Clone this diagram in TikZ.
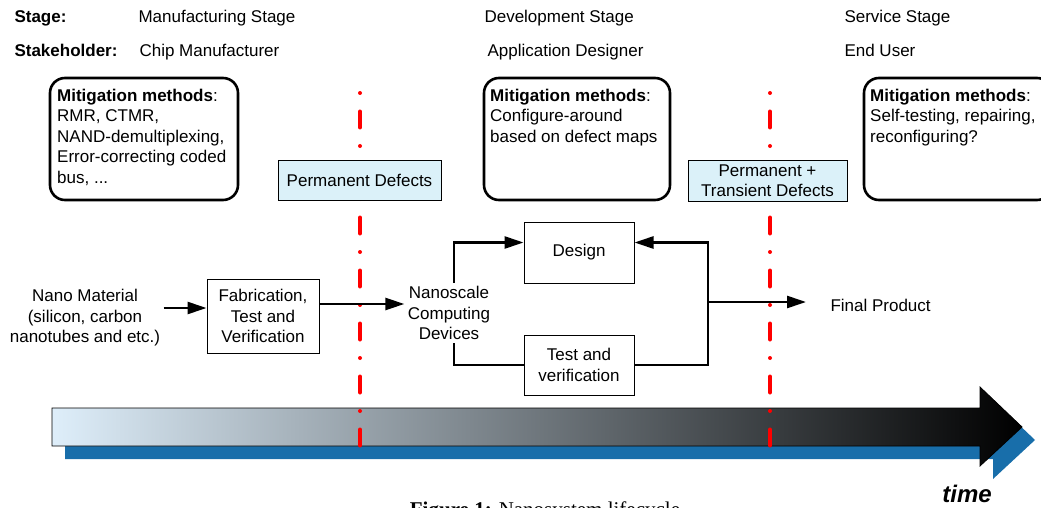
\documentclass[tikz,border=0pt]{standalone}
\usepackage{fontspec}
\setmainfont{Liberation Sans}
\newfontfamily\captionfont{Liberation Serif}
\usetikzlibrary{arrows.meta,positioning}

\definecolor{defectfill}{RGB}{219,241,249}
\definecolor{timeblue}{RGB}{24,110,170}
\definecolor{timelight}{RGB}{222,238,250}

\tikzset{
  txt/.style={font=\fontsize{17}{20.5}\selectfont, align=center},
  methodframe/.style={draw, line width=2.6pt, rounded corners=15pt,
    minimum width=188pt, minimum height=122pt},
  methodtext/.style={txt, align=left, inner sep=0pt, anchor=north west},
  defectbox/.style={txt, draw, fill=defectfill, line width=1pt},
  procbox/.style={txt, draw, line width=1pt, minimum width=110pt},
  link/.style={line width=2.6pt},
  flow/.style={link, -{Triangle[length=19pt,width=12pt]}},
  boundary/.style={red, line width=4pt, line cap=round,
    dash pattern=on 0pt off 18.5pt on 16pt off 18.5pt},
}

\begin{document}
\begin{tikzpicture}[x=1pt, y=-1pt]
    \useasboundingbox (0,0) rectangle (1041,508);

    % Time arrow with its shadow
    \fill[timeblue, shift={(13,13)}]
      (52,408) -- (980,408) -- (980,387) -- (1022,427)
      -- (980,466) -- (980,446) -- (52,446) -- cycle;
    \shadedraw[left color=timelight, right color=black, line width=0.8pt]
      (52,408) -- (980,408) -- (980,387) -- (1022,427)
      -- (980,466) -- (980,446) -- (52,446) -- cycle;
    \node[font=\fontsize{24}{24}\selectfont\bfseries\itshape, anchor=base]
      (time) at (967,502) {time};

    % Stage boundaries
    \draw[boundary] (360,93) -- (360,447);
    \draw[boundary] (770,93) -- (770,447);

    % Header rows
    \node[txt, anchor=base west, font=\fontsize{17}{20.5}\selectfont\bfseries]
      (stagelbl) at (11,22.5) {Stage:};
    \node[txt, anchor=base west] (mfgstage) at (135,22.5) {Manufacturing Stage};
    \node[txt, anchor=base west] (devstage) at (481,22.5) {Development Stage};
    \node[txt, anchor=base west] (svcstage) at (841,22.5) {Service Stage};

    \node[txt, anchor=base west, font=\fontsize{17}{20.5}\selectfont\bfseries]
      (holderlbl) at (11,56.5) {Stakeholder:};
    \node[txt, anchor=base west] (mfgholder) at (136,56.5) {Chip Manufacturer};
    \node[txt, anchor=base west] (devholder) at (484,56.5) {Application Designer};
    \node[txt, anchor=base west] (svcholder) at (841,56.5) {End User};

    % Mitigation methods
    \node[methodframe] (mfgbox) at (144,139) {};
    \node[methodtext] (mfgtext) at (57,88.5)
      {\textbf{Mitigation methods}:\\RMR, CTMR,\\NAND-demultiplexing,\\
       Error-correcting coded\\bus, ...};
    \node[methodframe, minimum width=186pt] (devbox) at (577,139) {};
    \node[methodtext] (devtext) at (490,88.5)
      {\textbf{Mitigation methods}:\\Configure-around\\based on defect maps};
    \node[methodframe] (svcbox) at (958,139) {};
    \node[methodtext] (svctext) at (870,88.5)
      {\textbf{Mitigation methods}:\\Self-testing, repairing,\\reconfiguring?};

    % Defect types
    \node[defectbox, minimum width=163pt, minimum height=40pt]
      (permdef) at (359.5,180) {Permanent Defects};
    \node[defectbox, minimum width=159pt, minimum height=41pt]
      (transdef) at (767.5,180.5) {Permanent +\\Transient Defects};

    % Flow of the product
    \node[txt] (nano) at (85,318)
      {Nano Material\\(silicon, carbon\\nanotubes and etc.)};
    \node[procbox, minimum width=112pt, minimum height=74pt]
      (fab) at (263,316) {Fabrication,\\Test and\\Verification};
    \node[txt] (nsd) at (449,313) {Nanoscale\\Computing\\Devices};
    \node[procbox, minimum height=61pt] (design) at (579,252.5) {Design};
    \node[procbox, minimum height=60pt] (test) at (579,365)
      {Test and\\verification};
    \node[txt, anchor=west] (final) at (827,305) {Final Product};
    \coordinate (split) at (708,302);

    \draw[flow] ([yshift=8pt]fab.west -| nano.east) -- ([yshift=8pt]fab.west);
    \draw[flow] ([yshift=12pt]fab.east) -- ([yshift=12pt]fab.east -| nsd.west);
    \draw[flow] ([xshift=5pt]nsd.north) |- ([yshift=10pt]design.west);
    \draw[link] ([xshift=5pt]nsd.south) |- (test.west);
    \draw[link] (test.east) -| (split);
    \draw[flow] (split) |- ([yshift=10pt]design.east);
    \draw[flow] (split) -- ([xshift=-21pt]final.west |- split);

    % Caption
    \node[font=\captionfont\fontsize{21}{21}\selectfont, anchor=base]
      (caption) at (545,516) {\textbf{Figure 1:} Nanosystem lifecycle};
\end{tikzpicture}
\end{document}
